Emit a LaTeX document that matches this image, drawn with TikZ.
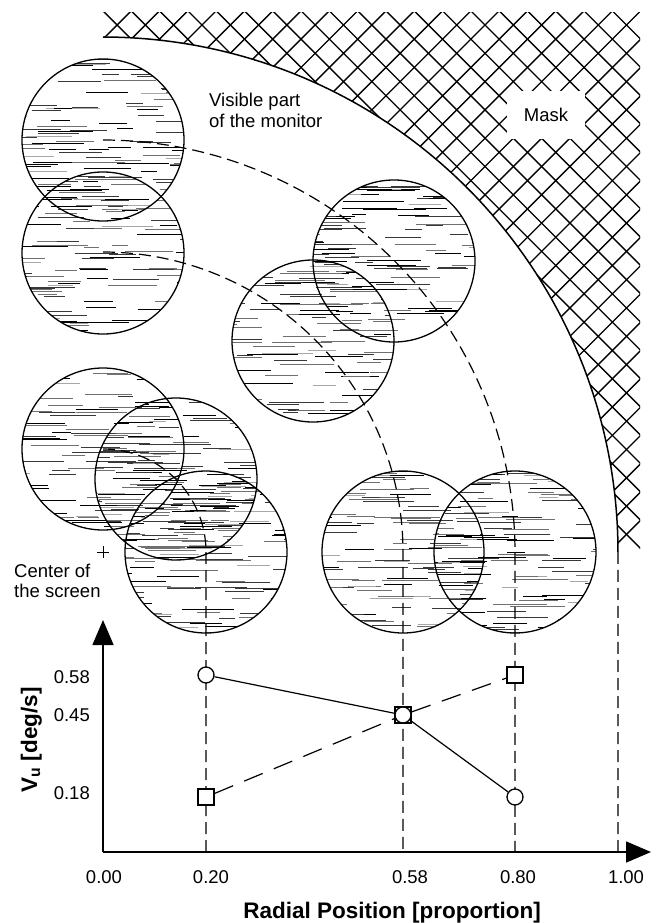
\documentclass[tikz,border=0pt]{standalone}
\usepackage{fontspec}
\setmainfont{Liberation Sans}
\usetikzlibrary{arrows.meta}
\begin{document}
\begin{tikzpicture}[x=1pt,y=-1pt,
  lab/.style={font=\fontsize{18.5}{21}\selectfont, inner sep=0pt},
  ttl/.style={font=\fontsize{22.5}{26}\selectfont\bfseries, inner sep=0pt},
  hatchline/.style={line width=1.35pt},
  guide/.style={line width=1.2pt, dash pattern=on 12pt off 6pt},
  dataline/.style={line width=1.2pt},
  datadash/.style={line width=1.2pt, dash pattern=on 20pt off 12pt},
  monitor/.style={line width=1.3pt},
  circmark/.style={circle, draw, fill=white, minimum size=16pt, inner sep=0pt, line width=1.3pt},
  sqmark/.style={rectangle, draw, fill=white, minimum size=16pt, inner sep=0pt, line width=1.3pt},
  axisarrow/.style={line width=1.6pt, -{Triangle[length=25pt,width=21pt]}}
]
\useasboundingbox (0,0) rectangle (656,923);
\pgfmathsetseed{4242}

% ---------- mask hatch ----------
\begin{scope}
  \path[clip] (103,13) rectangle (640,548);
  \begin{scope}[even odd rule]
  \path[clip] (-100,-100) rectangle (800,1100) (103,552) circle[radius=515];
  \foreach \k in {-31,...,8} {
    \draw[hatchline] ({431.7+28.3*\k},0) -- ++(700,700);
  }
  \foreach \k in {-14,...,25} {
    \draw[hatchline] ({481.7+28.3*\k},0) -- ++(-700,700);
  }
  \end{scope}
\end{scope}
\node[fill=white, minimum width=78pt, minimum height=48pt, inner sep=0pt,
      font=\fontsize{18.5}{21}\selectfont] (mask) at (546,115) {Mask};

% mask boundary (edge of visible monitor)
\coordinate (t20) at (206,852);
\coordinate (t58) at (403,852);
\coordinate (t80) at (515,852);
\coordinate (t100) at (618,852);
\draw[line width=1.5pt] plot[domain=90:0,samples=150] ({103+515*cos(\x)},{552-515*sin(\x)}) coordinate (arcend);
\draw[guide] (arcend) -- (t100);

% ---------- textured monitors ----------
\foreach \cx/\cy in {103/140, 103/253, 103/449, 176/479, 206/552, 313/341, 394/261, 403/552, 515/552} {
  \begin{scope}
    \path[clip] (\cx,\cy) circle[radius=81];
    \foreach \j in {1,...,115} {
        \pgfmathsetmacro\xs{\cx-110+190*rnd}
        \pgfmathsetmacro\ys{\cy-81+162*rnd}
        \pgfmathsetmacro\seglen{14+42*rnd}
        \pgfmathsetmacro\grv{int(100-22*int(3.3*rnd))}
        \draw[line width=0.75pt, black!\grv] (\xs,\ys) -- ++(\seglen,0);
    }
  \end{scope}
}
\foreach \cx/\cy in {103/140, 103/253, 103/449, 176/479, 206/552, 313/341, 394/261, 403/552, 515/552} {
  \draw[monitor] (\cx,\cy) circle[radius=81];
}

% ---------- dashed eccentricity guides ----------
\foreach \r/\nm in {103/t20, 300/t58, 412/t80} {
  \draw[guide] plot[domain=90:0,samples=90] ({103+\r*cos(\x)},{552-\r*sin(\x)}) -- (\nm);
}

% centre of the screen
\coordinate (scr) at (103,552);
\draw[line width=0.9pt] ([yshift=-6pt]scr) -- ([yshift=6pt]scr) ([xshift=-6pt]scr) -- ([xshift=6pt]scr);

% ---------- texts ----------
\node[lab, anchor=base west] (vis1) at (209,107) {Visible part};
\node[lab, anchor=base west] (vis2) at (209,128) {of the monitor};
\node[lab, anchor=base west] (cen1) at (14,577) {Center of};
\node[lab, anchor=base west] (cen2) at (14,597) {the screen};

% ---------- axes ----------
\coordinate (origin) at (103,852);
\coordinate (ytip) at (103,620);
\coordinate (xtip) at (651,852);
\draw[axisarrow] (origin) -- (ytip);
\draw[axisarrow] (origin) -- (xtip);

\node[lab, anchor=base east] (y58) at (90,683) {0.58};
\node[lab, anchor=base east] (y45) at (90,721) {0.45};
\node[lab, anchor=base east] (y18) at (90,799) {0.18};

\node[lab, anchor=base] (x00) at (104,883) {0.00};
\node[lab, anchor=base] (x20) at (211,883) {0.20};
\node[lab, anchor=base] (x58) at (410,883) {0.58};
\node[lab, anchor=base] (x80) at (518,883) {0.80};
\node[lab, anchor=base] (x100) at (626,883) {1.00};

\node[ttl, anchor=base] (xtitle) at (392,918) {Radial Position [proportion]};
\node[ttl, anchor=base, rotate=90] (ytitle) at (37,740) {V\textsubscript{u} [deg/s]};

% ---------- data ----------
\node[sqmark] (s1) at (206,797) {};
\node[sqmark] (s2) at (403,715) {};
\node[sqmark] (s3) at (515,675) {};
\node[circmark] (c1) at (206,675) {};
\node[circmark] (c2) at (403,715) {};
\node[circmark] (c3) at (515,797) {};
\draw[dataline] (c1) -- (c2) -- (c3);
\draw[datadash] (s1) -- (s2) -- (s3);
\end{tikzpicture}
\end{document}
